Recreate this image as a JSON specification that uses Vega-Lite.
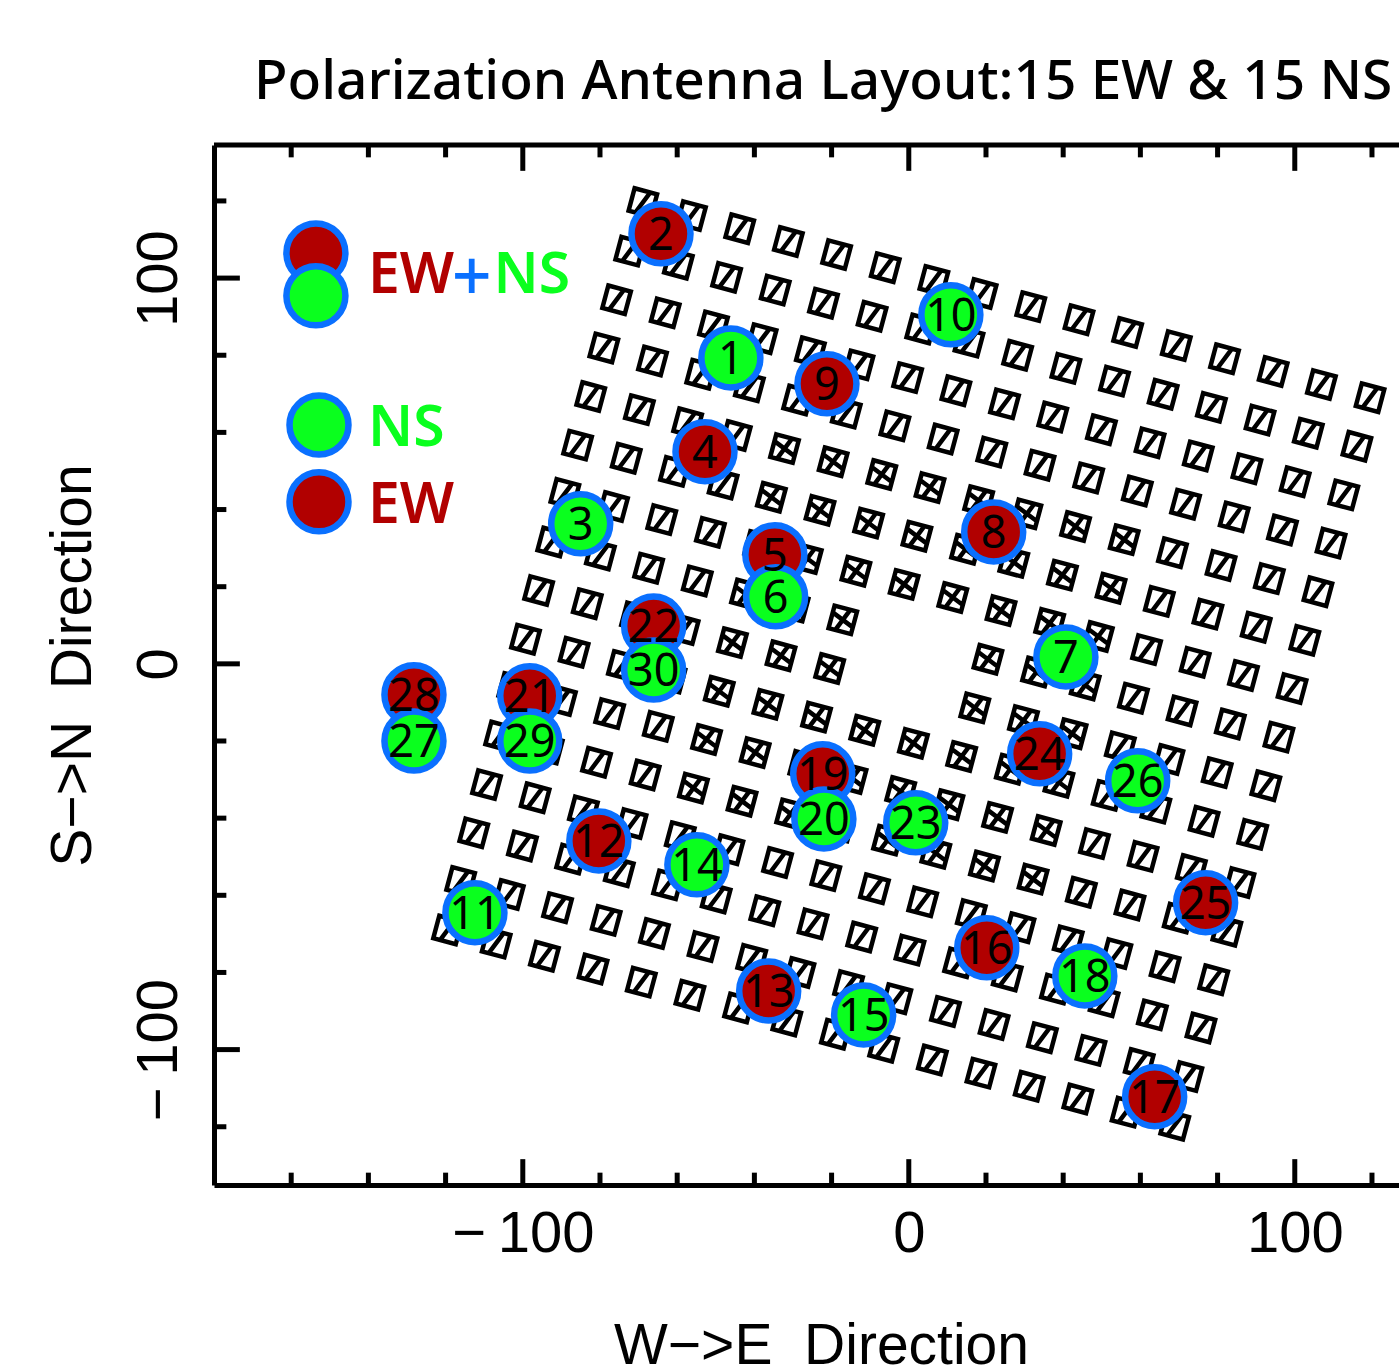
{"$schema":"https://vega.github.io/schema/vega-lite/v6.json","width":1185,"height":1040,"autosize":{"type":"none"},"padding":{"left":214,"top":145,"right":0,"bottom":182},"background":"white","config":{"view":{"stroke":null},"axis":{"grid":false}},"title":{"text":"Polarization Antenna Layout:15 EW & 15 NS","anchor":"start","frame":"group","dx":40,"offset":32,"font":"Noto Sans","fontSize":55,"fontWeight":500,"color":"black"},
"datasets":{
"tiles":[
{"x":-68.9,"y":119.6,"k":"s"},{"x":-56.3,"y":116.2,"k":"s"},{"x":-43.8,"y":112.8,"k":"s"},{"x":-31.2,"y":109.5,"k":"s"},{"x":-18.7,"y":106.1,"k":"s"},{"x":-6.1,"y":102.7,"k":"s"},{"x":6.5,"y":99.4,"k":"s"},{"x":19.0,"y":96.0,"k":"s"},{"x":31.6,"y":92.6,"k":"s"},{"x":44.1,"y":89.2,"k":"s"},{"x":56.7,"y":85.9,"k":"s"},{"x":69.3,"y":82.5,"k":"s"},{"x":81.8,"y":79.1,"k":"s"},{"x":94.4,"y":75.8,"k":"s"},{"x":106.9,"y":72.4,"k":"s"},{"x":119.5,"y":69.0,"k":"s"},
{"x":-72.3,"y":107.0,"k":"s"},{"x":-59.7,"y":103.6,"k":"s"},{"x":-47.2,"y":100.2,"k":"s"},{"x":-34.6,"y":96.9,"k":"s"},{"x":-22.1,"y":93.5,"k":"s"},{"x":-9.5,"y":90.1,"k":"s"},{"x":3.1,"y":86.8,"k":"s"},{"x":15.6,"y":83.4,"k":"s"},{"x":28.2,"y":80.0,"k":"s"},{"x":40.7,"y":76.6,"k":"s"},{"x":53.3,"y":73.3,"k":"s"},{"x":65.9,"y":69.9,"k":"s"},{"x":78.4,"y":66.5,"k":"s"},{"x":91.0,"y":63.2,"k":"s"},{"x":103.5,"y":59.8,"k":"s"},{"x":116.1,"y":56.4,"k":"s"},
{"x":-75.7,"y":94.4,"k":"s"},{"x":-63.1,"y":91.0,"k":"s"},{"x":-50.6,"y":87.6,"k":"s"},{"x":-38.0,"y":84.3,"k":"s"},{"x":-25.5,"y":80.9,"k":"s"},{"x":-12.9,"y":77.5,"k":"s"},{"x":-0.3,"y":74.2,"k":"s"},{"x":12.2,"y":70.8,"k":"s"},{"x":24.8,"y":67.4,"k":"s"},{"x":37.3,"y":64.0,"k":"s"},{"x":49.9,"y":60.7,"k":"s"},{"x":62.5,"y":57.3,"k":"s"},{"x":75.0,"y":53.9,"k":"s"},{"x":87.6,"y":50.6,"k":"s"},{"x":100.1,"y":47.2,"k":"s"},{"x":112.7,"y":43.8,"k":"s"},
{"x":-79.0,"y":81.9,"k":"s"},{"x":-66.4,"y":78.5,"k":"s"},{"x":-53.9,"y":75.1,"k":"s"},{"x":-41.3,"y":71.8,"k":"s"},{"x":-28.8,"y":68.4,"k":"s"},{"x":-16.2,"y":65.0,"k":"s"},{"x":-3.6,"y":61.7,"k":"s"},{"x":8.9,"y":58.3,"k":"s"},{"x":21.5,"y":54.9,"k":"s"},{"x":34.0,"y":51.5,"k":"s"},{"x":46.6,"y":48.2,"k":"s"},{"x":59.2,"y":44.8,"k":"s"},{"x":71.7,"y":41.4,"k":"s"},{"x":84.3,"y":38.1,"k":"s"},{"x":96.8,"y":34.7,"k":"s"},{"x":109.4,"y":31.3,"k":"s"},
{"x":-82.4,"y":69.3,"k":"s"},{"x":-69.8,"y":65.9,"k":"s"},{"x":-57.3,"y":62.5,"k":"s"},{"x":-44.7,"y":59.2,"k":"s"},{"x":-32.2,"y":55.8,"k":"d"},{"x":-19.6,"y":52.4,"k":"d"},{"x":-7.0,"y":49.1,"k":"d"},{"x":5.5,"y":45.7,"k":"d"},{"x":18.1,"y":42.3,"k":"d"},{"x":30.6,"y":38.9,"k":"d"},{"x":43.2,"y":35.6,"k":"d"},{"x":55.8,"y":32.2,"k":"d"},{"x":68.3,"y":28.8,"k":"s"},{"x":80.9,"y":25.5,"k":"s"},{"x":93.4,"y":22.1,"k":"s"},{"x":106.0,"y":18.7,"k":"s"},
{"x":-85.8,"y":56.7,"k":"s"},{"x":-73.2,"y":53.3,"k":"s"},{"x":-60.7,"y":49.9,"k":"s"},{"x":-48.1,"y":46.6,"k":"s"},{"x":-35.6,"y":43.2,"k":"d"},{"x":-23.0,"y":39.8,"k":"d"},{"x":-10.4,"y":36.5,"k":"d"},{"x":2.1,"y":33.1,"k":"d"},{"x":14.7,"y":29.7,"k":"d"},{"x":27.2,"y":26.3,"k":"d"},{"x":39.8,"y":23.0,"k":"d"},{"x":52.4,"y":19.6,"k":"d"},{"x":64.9,"y":16.2,"k":"s"},{"x":77.5,"y":12.9,"k":"s"},{"x":90.0,"y":9.5,"k":"s"},{"x":102.6,"y":6.1,"k":"s"},
{"x":-89.1,"y":44.2,"k":"s"},{"x":-76.5,"y":40.8,"k":"s"},{"x":-64.0,"y":37.4,"k":"s"},{"x":-51.4,"y":34.1,"k":"s"},{"x":-38.9,"y":30.7,"k":"d"},{"x":-26.3,"y":27.3,"k":"d"},{"x":-13.7,"y":24.0,"k":"d"},{"x":-1.2,"y":20.6,"k":"d"},{"x":11.4,"y":17.2,"k":"d"},{"x":23.9,"y":13.8,"k":"d"},{"x":36.5,"y":10.5,"k":"d"},{"x":49.1,"y":7.1,"k":"d"},{"x":61.6,"y":3.7,"k":"s"},{"x":74.2,"y":0.4,"k":"s"},{"x":86.7,"y":-3.0,"k":"s"},{"x":99.3,"y":-6.4,"k":"s"},
{"x":-92.5,"y":31.6,"k":"s"},{"x":-79.9,"y":28.2,"k":"s"},{"x":-67.4,"y":24.8,"k":"s"},{"x":-54.8,"y":21.5,"k":"s"},{"x":-42.3,"y":18.1,"k":"d"},{"x":-29.7,"y":14.7,"k":"d"},{"x":-17.1,"y":11.4,"k":"d"},{"x":20.5,"y":1.2,"k":"d"},{"x":33.1,"y":-2.1,"k":"d"},{"x":45.7,"y":-5.5,"k":"d"},{"x":58.2,"y":-8.9,"k":"s"},{"x":70.8,"y":-12.2,"k":"s"},{"x":83.3,"y":-15.6,"k":"s"},{"x":95.9,"y":-19.0,"k":"s"},
{"x":-95.9,"y":19.0,"k":"s"},{"x":-83.3,"y":15.6,"k":"s"},{"x":-70.8,"y":12.2,"k":"s"},{"x":-58.2,"y":8.9,"k":"s"},{"x":-45.7,"y":5.5,"k":"d"},{"x":-33.1,"y":2.1,"k":"d"},{"x":-20.5,"y":-1.2,"k":"d"},{"x":17.1,"y":-11.4,"k":"d"},{"x":29.7,"y":-14.7,"k":"d"},{"x":42.3,"y":-18.1,"k":"d"},{"x":54.8,"y":-21.5,"k":"s"},{"x":67.4,"y":-24.8,"k":"s"},{"x":79.9,"y":-28.2,"k":"s"},{"x":92.5,"y":-31.6,"k":"s"},
{"x":-99.3,"y":6.4,"k":"s"},{"x":-86.7,"y":3.0,"k":"s"},{"x":-74.2,"y":-0.4,"k":"s"},{"x":-61.6,"y":-3.7,"k":"s"},{"x":-49.1,"y":-7.1,"k":"d"},{"x":-36.5,"y":-10.5,"k":"d"},{"x":-23.9,"y":-13.8,"k":"d"},{"x":-11.4,"y":-17.2,"k":"d"},{"x":1.2,"y":-20.6,"k":"d"},{"x":13.7,"y":-24.0,"k":"d"},{"x":26.3,"y":-27.3,"k":"d"},{"x":38.9,"y":-30.7,"k":"d"},{"x":51.4,"y":-34.1,"k":"s"},{"x":64.0,"y":-37.4,"k":"s"},{"x":76.5,"y":-40.8,"k":"s"},{"x":89.1,"y":-44.2,"k":"s"},
{"x":-102.6,"y":-6.1,"k":"s"},{"x":-90.0,"y":-9.5,"k":"s"},{"x":-77.5,"y":-12.9,"k":"s"},{"x":-64.9,"y":-16.2,"k":"s"},{"x":-52.4,"y":-19.6,"k":"d"},{"x":-39.8,"y":-23.0,"k":"d"},{"x":-27.2,"y":-26.3,"k":"d"},{"x":-14.7,"y":-29.7,"k":"d"},{"x":-2.1,"y":-33.1,"k":"d"},{"x":10.4,"y":-36.5,"k":"d"},{"x":23.0,"y":-39.8,"k":"d"},{"x":35.6,"y":-43.2,"k":"d"},{"x":48.1,"y":-46.6,"k":"s"},{"x":60.7,"y":-49.9,"k":"s"},{"x":73.2,"y":-53.3,"k":"s"},{"x":85.8,"y":-56.7,"k":"s"},
{"x":-106.0,"y":-18.7,"k":"s"},{"x":-93.4,"y":-22.1,"k":"s"},{"x":-80.9,"y":-25.5,"k":"s"},{"x":-68.3,"y":-28.8,"k":"s"},{"x":-55.8,"y":-32.2,"k":"d"},{"x":-43.2,"y":-35.6,"k":"d"},{"x":-30.6,"y":-38.9,"k":"d"},{"x":-18.1,"y":-42.3,"k":"d"},{"x":-5.5,"y":-45.7,"k":"d"},{"x":7.0,"y":-49.1,"k":"d"},{"x":19.6,"y":-52.4,"k":"d"},{"x":32.2,"y":-55.8,"k":"d"},{"x":44.7,"y":-59.2,"k":"s"},{"x":57.3,"y":-62.5,"k":"s"},{"x":69.8,"y":-65.9,"k":"s"},{"x":82.4,"y":-69.3,"k":"s"},
{"x":-109.4,"y":-31.3,"k":"s"},{"x":-96.8,"y":-34.7,"k":"s"},{"x":-84.3,"y":-38.1,"k":"s"},{"x":-71.7,"y":-41.4,"k":"s"},{"x":-59.2,"y":-44.8,"k":"s"},{"x":-46.6,"y":-48.2,"k":"s"},{"x":-34.0,"y":-51.5,"k":"s"},{"x":-21.5,"y":-54.9,"k":"s"},{"x":-8.9,"y":-58.3,"k":"s"},{"x":3.6,"y":-61.7,"k":"s"},{"x":16.2,"y":-65.0,"k":"s"},{"x":28.8,"y":-68.4,"k":"s"},{"x":41.3,"y":-71.8,"k":"s"},{"x":53.9,"y":-75.1,"k":"s"},{"x":66.4,"y":-78.5,"k":"s"},{"x":79.0,"y":-81.9,"k":"s"},
{"x":-112.7,"y":-43.8,"k":"s"},{"x":-100.1,"y":-47.2,"k":"s"},{"x":-87.6,"y":-50.6,"k":"s"},{"x":-75.0,"y":-53.9,"k":"s"},{"x":-62.5,"y":-57.3,"k":"s"},{"x":-49.9,"y":-60.7,"k":"s"},{"x":-37.3,"y":-64.0,"k":"s"},{"x":-24.8,"y":-67.4,"k":"s"},{"x":-12.2,"y":-70.8,"k":"s"},{"x":0.3,"y":-74.2,"k":"s"},{"x":12.9,"y":-77.5,"k":"s"},{"x":25.5,"y":-80.9,"k":"s"},{"x":38.0,"y":-84.3,"k":"s"},{"x":50.6,"y":-87.6,"k":"s"},{"x":63.1,"y":-91.0,"k":"s"},{"x":75.7,"y":-94.4,"k":"s"},
{"x":-116.1,"y":-56.4,"k":"s"},{"x":-103.5,"y":-59.8,"k":"s"},{"x":-91.0,"y":-63.2,"k":"s"},{"x":-78.4,"y":-66.5,"k":"s"},{"x":-65.9,"y":-69.9,"k":"s"},{"x":-53.3,"y":-73.3,"k":"s"},{"x":-40.7,"y":-76.6,"k":"s"},{"x":-28.2,"y":-80.0,"k":"s"},{"x":-15.6,"y":-83.4,"k":"s"},{"x":-3.1,"y":-86.8,"k":"s"},{"x":9.5,"y":-90.1,"k":"s"},{"x":22.1,"y":-93.5,"k":"s"},{"x":34.6,"y":-96.9,"k":"s"},{"x":47.2,"y":-100.2,"k":"s"},{"x":59.7,"y":-103.6,"k":"s"},{"x":72.3,"y":-107.0,"k":"s"},
{"x":-119.5,"y":-69.0,"k":"s"},{"x":-106.9,"y":-72.4,"k":"s"},{"x":-94.4,"y":-75.8,"k":"s"},{"x":-81.8,"y":-79.1,"k":"s"},{"x":-69.3,"y":-82.5,"k":"s"},{"x":-56.7,"y":-85.9,"k":"s"},{"x":-44.1,"y":-89.2,"k":"s"},{"x":-31.6,"y":-92.6,"k":"s"},{"x":-19.0,"y":-96.0,"k":"s"},{"x":-6.5,"y":-99.4,"k":"s"},{"x":6.1,"y":-102.7,"k":"s"},{"x":18.7,"y":-106.1,"k":"s"},{"x":31.2,"y":-109.5,"k":"s"},{"x":43.8,"y":-112.8,"k":"s"},{"x":56.3,"y":-116.2,"k":"s"},{"x":68.9,"y":-119.6,"k":"s"}
],
"antennas":[
{"x":-46.1,"y":79.3,"pol":"NS","n":"1"},{"x":-64.2,"y":111.5,"pol":"EW","n":"2"},{"x":-85.0,"y":36.3,"pol":"NS","n":"3"},{"x":-52.8,"y":55.0,"pol":"EW","n":"4"},{"x":-34.7,"y":28.3,"pol":"EW","n":"5"},{"x":-34.5,"y":17.4,"pol":"NS","n":"6"},{"x":40.7,"y":1.8,"pol":"NS","n":"7"},{"x":22.0,"y":34.2,"pol":"EW","n":"8"},{"x":-21.2,"y":72.6,"pol":"EW","n":"9"},{"x":10.9,"y":90.5,"pol":"NS","n":"10"},{"x":-112.4,"y":-64.5,"pol":"NS","n":"11"},{"x":-80.3,"y":-45.9,"pol":"EW","n":"12"},{"x":-36.3,"y":-84.8,"pol":"EW","n":"13"},{"x":-54.9,"y":-52.1,"pol":"NS","n":"14"},{"x":-11.7,"y":-91.0,"pol":"NS","n":"15"},{"x":20.2,"y":-73.6,"pol":"EW","n":"16"},{"x":63.7,"y":-112.2,"pol":"EW","n":"17"},{"x":45.6,"y":-80.9,"pol":"NS","n":"18"},{"x":-22.3,"y":-28.5,"pol":"EW","n":"19"},{"x":-22.0,"y":-40.2,"pol":"NS","n":"20"},{"x":-98.2,"y":-8.3,"pol":"EW","n":"21"},{"x":-66.1,"y":9.8,"pol":"EW","n":"22"},{"x":1.8,"y":-41.2,"pol":"NS","n":"23"},{"x":33.9,"y":-23.3,"pol":"EW","n":"24"},{"x":76.9,"y":-61.9,"pol":"EW","n":"25"},{"x":59.3,"y":-30.3,"pol":"NS","n":"26"},{"x":-128.2,"y":-20.0,"pol":"NS","n":"27"},{"x":-128.2,"y":-8.0,"pol":"EW","n":"28"},{"x":-98.2,"y":-20.0,"pol":"NS","n":"29"},{"x":-66.1,"y":-1.6,"pol":"NS","n":"30"},
{"x":-153.6,"y":106.5,"pol":"EW","n":""},{"x":-153.6,"y":95.4,"pol":"NS","n":""},{"x":-152.8,"y":61.9,"pol":"NS","n":""},{"x":-152.8,"y":42.0,"pol":"EW","n":""}
],
"legendText":[{"x":-140.1,"y":96.2,"pol":"EW","t":"EW"},{"x":-107.6,"y":96.2,"pol":"NS","t":"NS"},{"x":-140.1,"y":56.5,"pol":"NS","t":"NS"},{"x":-140.1,"y":36.5,"pol":"EW","t":"EW"}],
"legendPlus":[{"x":-118.4,"y":94.1,"pol":"plus","t":"+"}],
"xMinor":[{"t":-160},{"t":-140},{"t":-120},{"t":-80},{"t":-60},{"t":-40},{"t":-20},{"t":20},{"t":40},{"t":60},{"t":80},{"t":120}],
"xMajor":[{"t":-100},{"t":0},{"t":100}],
"yMinor":[{"t":-120},{"t":-80},{"t":-60},{"t":-40},{"t":-20},{"t":20},{"t":40},{"t":60},{"t":80},{"t":120}],
"yMajor":[{"t":-100},{"t":0},{"t":100}]
},
"layer":[
{"data":{"name":"tiles"},"mark":{"type":"point","filled":false,"stroke":"black","strokeWidth":4.5,"size":540,"angle":15,"opacity":1},
"encoding":{"x":{"field":"x","type":"quantitative","scale":{"domain":[-180,127],"nice":false,"zero":false},"axis":{"values":[-100,0,100],"ticks":false,"grid":false,"domain":true,"domainColor":"black","domainWidth":5,"labelFont":"Liberation Sans","labelFontSize":58,"labelColor":"black","labelPadding":20,"labelFlush":false,"labelOverlap":false,"labelExpr":"datum.value==-100?'−\u2009100':datum.label","title":"W−>E\u00a0 Direction","titleFont":"Liberation Sans","titleFontSize":57,"titleFontWeight":"normal","titleColor":"black","titleX":607,"titleY":178,"titleBaseline":"alphabetic","titleAnchor":"middle"}},
"y":{"field":"y","type":"quantitative","scale":{"domain":[-135.1,134.5],"nice":false,"zero":false},"axis":{"values":[-100,0,100],"ticks":false,"grid":false,"domain":true,"domainColor":"black","domainWidth":5,"labelFont":"Liberation Sans","labelFontSize":58,"labelColor":"black","labelAngle":-90,"labelAlign":"center","labelBaseline":"alphabetic","labelPadding":38,"labelFlush":false,"labelOverlap":false,"labelExpr":"datum.value==-100?'−\u2009100':datum.label","title":"S−>N\u00a0 Direction","titleFont":"Liberation Sans","titleFontSize":57,"titleFontWeight":"normal","titleColor":"black","titleX":-124,"titleY":520,"titleBaseline":"alphabetic","titleAnchor":"middle"}},
"shape":{"field":"k","type":"nominal","legend":null,"scale":{"domain":["s","d"],"range":["M-1,-1L1,-1L1,1L-1,1ZM-0.4,1L0.4,-1","M-1,-1L1,-1L1,1L-1,1ZM-0.4,1L0.4,-1M-1,-0.4L1,0.4"]}}}},
{"data":{"name":"xMinor"},"mark":{"type":"rule","color":"black","strokeWidth":5},"encoding":{"x":{"field":"t","type":"quantitative"},"y":{"datum":-135.1,"type":"quantitative"},"y2":{"datum":-131.9}}},
{"data":{"name":"xMajor"},"mark":{"type":"rule","color":"black","strokeWidth":5},"encoding":{"x":{"field":"t","type":"quantitative"},"y":{"datum":-135.1,"type":"quantitative"},"y2":{"datum":-128.4}}},
{"data":{"name":"xMinor"},"mark":{"type":"rule","color":"black","strokeWidth":5},"encoding":{"x":{"field":"t","type":"quantitative"},"y":{"datum":134.5,"type":"quantitative"},"y2":{"datum":131.3}}},
{"data":{"name":"xMajor"},"mark":{"type":"rule","color":"black","strokeWidth":5},"encoding":{"x":{"field":"t","type":"quantitative"},"y":{"datum":134.5,"type":"quantitative"},"y2":{"datum":127.8}}},
{"data":{"name":"yMinor"},"mark":{"type":"rule","color":"black","strokeWidth":5},"encoding":{"y":{"field":"t","type":"quantitative"},"x":{"datum":-180,"type":"quantitative"},"x2":{"datum":-176.8}}},
{"data":{"name":"yMajor"},"mark":{"type":"rule","color":"black","strokeWidth":5},"encoding":{"y":{"field":"t","type":"quantitative"},"x":{"datum":-180,"type":"quantitative"},"x2":{"datum":-173.3}}},
{"data":{"values":[{"a":1}]},"mark":{"type":"rule","color":"black","strokeWidth":5},"encoding":{"y":{"datum":134.5,"type":"quantitative"},"x":{"datum":-180,"type":"quantitative"},"x2":{"datum":127}}},
{"data":{"name":"antennas"},"mark":{"type":"circle","size":3481,"stroke":"#0a70ff","strokeWidth":6.5,"opacity":1},"encoding":{"x":{"field":"x","type":"quantitative"},"y":{"field":"y","type":"quantitative"},"fill":{"field":"pol","type":"nominal","legend":null,"scale":{"domain":["EW","NS","plus"],"range":["#b10000","#0aff1e","#0a70ff"]}},"order":{"field":"pol"}}},
{"data":{"name":"antennas"},"mark":{"type":"text","font":"Noto Sans","fontSize":45,"baseline":"middle","align":"center","color":"black","dy":2},"encoding":{"x":{"field":"x","type":"quantitative"},"y":{"field":"y","type":"quantitative"},"text":{"field":"n"}}},
{"data":{"name":"legendText"},"mark":{"type":"text","font":"Noto Sans","fontSize":57,"fontWeight":600,"baseline":"alphabetic","align":"left"},"encoding":{"x":{"field":"x","type":"quantitative"},"y":{"field":"y","type":"quantitative"},"text":{"field":"t"},"color":{"field":"pol","type":"nominal","legend":null,"scale":{"domain":["EW","NS","plus"],"range":["#b10000","#0aff1e","#0a70ff"]}}}},
{"data":{"name":"legendPlus"},"mark":{"type":"text","font":"Noto Sans","fontSize":70,"fontWeight":500,"baseline":"alphabetic","align":"left"},"encoding":{"x":{"field":"x","type":"quantitative"},"y":{"field":"y","type":"quantitative"},"text":{"field":"t"},"color":{"field":"pol","type":"nominal","legend":null,"scale":{"domain":["EW","NS","plus"],"range":["#b10000","#0aff1e","#0a70ff"]}}}}
]}
